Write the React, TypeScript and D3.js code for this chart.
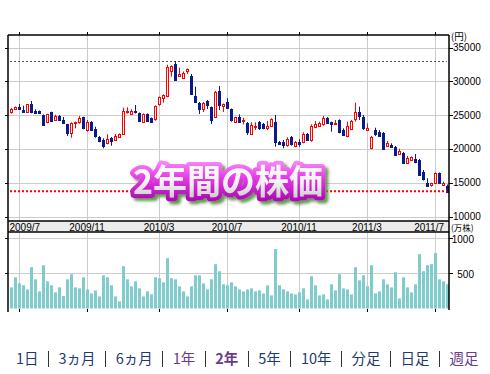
import React, { useRef, useEffect } from 'react';
import * as d3 from 'd3';

// weekly candles, 2009/6 - 2011/7 (yen)
const opens = [
  25530, 25890, 26270, 25830, 25530, 26670, 25640, 25640, 25050, 23970,
  25440, 24310, 24940, 24350, 23670, 22430, 23820, 23970, 24750, 22790,
  24060, 22980, 21840, 21360, 20870, 21700, 21400, 21800, 22290, 25440,
  25240, 25640, 25340, 24060, 25190, 24560, 24410, 26670, 27600, 27890,
  31490, 32520, 30840, 30550, 31490, 30800, 27800, 26860, 25930, 27070,
  26180, 24710, 28590, 26370, 27010, 25930, 23970, 24710, 24160, 23910,
  22290, 23230, 23970, 23670, 23170, 23470, 24060, 21110, 21060, 20620,
  21760, 20520, 21060, 21020, 22240, 21360, 23230, 23470, 23720, 24650,
  23970, 23670, 24310, 22830, 21950, 22940, 24410, 25530, 24710, 22830,
  20130, 22830, 22580, 22350, 20470, 20660, 20280, 19290, 19440, 18010,
  18410, 18510, 18410, 16680, 15060, 14760, 14970, 16450, 14720, 14620,
];
const highs = [
  26120, 26300, 26670, 26420, 26670, 27110, 25890, 25710, 25120, 25220,
  25530, 25090, 25050, 24750, 23720, 23970, 24090, 24900, 24780, 24310,
  24160, 23320, 21950, 21610, 22200, 21800, 22240, 22320, 26120, 26180,
  25890, 26520, 25410, 25270, 25300, 24680, 26450, 27770, 28100, 32460,
  32350, 33000, 32020, 31460, 31900, 31090, 29220, 26960, 26960, 27260,
  26300, 28590, 29320, 26740, 27510, 26000, 24790, 25150, 24650, 24010,
  23970, 23970, 24160, 23870, 24160, 24560, 25050, 21210, 21360, 21760,
  21950, 21210, 21460, 22490, 22390, 23670, 24160, 24060, 24900, 24750,
  24060, 24310, 24410, 23080, 24060, 24310, 26860, 26270, 25050, 23820,
  21950, 23170, 22830, 22540, 21210, 20870, 20470, 20070, 19590, 19000,
  18920, 19290, 18560, 16930, 15710, 15060, 16560, 16560, 15210, 14790,
];
const lows = [
  25240, 25830, 25830, 25490, 25490, 25300, 25190, 25190, 23420, 23820,
  24160, 24160, 24200, 23760, 21950, 21700, 23080, 23760, 22940, 22580,
  22790, 21700, 21020, 20130, 20720, 20520, 21280, 21730, 22100, 25240,
  25190, 25270, 24160, 23970, 24090, 23940, 24200, 26420, 26860, 27660,
  30690, 30210, 30720, 30360, 31090, 28040, 26890, 25190, 25490, 25930,
  23720, 24600, 25780, 25490, 25930, 24060, 23870, 24010, 23670, 22100,
  22100, 22830, 22830, 22940, 22830, 23320, 20370, 20620, 20130, 20370,
  20520, 20280, 20370, 20870, 21210, 21110, 23080, 23420, 23470, 23720,
  22580, 23570, 22350, 21950, 21760, 22830, 24060, 24310, 22830, 22730,
  19990, 21950, 21800, 19880, 20330, 20250, 19000, 19150, 17920, 17920,
  18260, 17920, 16050, 15380, 14500, 14470, 14870, 14870, 14570, 13800,
];
const closes = [
  25930, 26230, 25890, 25530, 26620, 25530, 25340, 25380, 23570, 25150,
  24200, 24940, 24350, 23870, 22390, 23820, 24010, 24650, 23170, 24010,
  22830, 21900, 21250, 20520, 21460, 21210, 21900, 22200, 25640, 25590,
  25640, 25440, 24200, 25190, 24200, 24060, 26370, 27660, 27950, 32170,
  32230, 30250, 31140, 31280, 31790, 28140, 27010, 25930, 26860, 26520,
  24310, 28480, 26520, 26670, 26030, 24310, 24710, 24060, 24350, 22580,
  23570, 23470, 23080, 23170, 23470, 24410, 21020, 20810, 20620, 21510,
  20770, 21060, 20770, 22240, 21360, 23420, 23720, 23820, 24650, 23820,
  23670, 23910, 22580, 22100, 23420, 24200, 25530, 24900, 23080, 23080,
  21760, 22200, 21950, 19990, 20870, 20370, 19150, 19780, 18010, 18750,
  18810, 18110, 16200, 15560, 14570, 14970, 16450, 14970, 14970, 13730,
];
// 万株
const volumes = [
  300, 443, 357, 329, 271, 586, 414, 243, 614, 386,
  329, 229, 300, 176, 414, 486, 300, 286, 443, 271,
  214, 257, 171, 471, 443, 329, 171, 100, 600, 414,
  314, 386, 286, 171, 243, 200, 443, 429, 371, 714,
  429, 414, 314, 243, 171, 314, 471, 471, 357, 271,
  414, 629, 529, 343, 329, 371, 314, 271, 243, 271,
  286, 243, 257, 214, 329, 186, 843, 329, 271, 243,
  214, 200, 229, 286, 129, 457, 329, 186, 200, 129,
  343, 257, 486, 286, 271, 200, 586, 400, 471, 314,
  614, 214, 243, 414, 343, 300, 514, 143, 443, 300,
  229, 343, 771, 529, 614, 629, 786, 414, 386, 343,
];

const monthLabels = ['2009/7', '2009/11', '2010/3', '2010/7', '2010/11', '2011/3', '2011/7'];
const monthWeeks = [2, 19, 37, 54, 72, 89, 106];
const priceTicks = [10000, 15000, 20000, 25000, 30000, 35000];
const volumeTicks = [500, 1000];
const tabLabels = ['1日', '3ヵ月', '6ヵ月', '1年', '2年', '5年', '10年', '分足', '日足', '週足'];
const purpleTabs = ['1年', '2年', '週足'];
const currentTab = '2年';
const title = '2年間の株価';

const NUM_FONT = '"Liberation Sans", Arial, sans-serif';
const JP_FONT = '"Noto Sans CJK JP", "Noto Sans", sans-serif';

export default function App() {
  const svgRef = useRef<SVGSVGElement>(null);

  useEffect(() => {
    if (!svgRef.current) return;
    document.body.style.margin = '0';

    const width = 490;
    const height = 374;
    const left = 8, right = 449, top = 35;
    const stripTop = 221, stripBottom = 232, volBottom = 309;

    const svg = d3.select(svgRef.current)
      .attr('width', width)
      .attr('height', height)
      .attr('viewBox', `0 0 ${width} ${height}`);
    svg.selectAll('*').remove();

    const n = opens.length;
    const x = d3.scaleLinear().domain([0, n - 1]).range([11, 447]);
    const y = d3.scaleLinear().domain([10000, 35000]).range([217, 47.5]);
    const yv = d3.scaleLinear().domain([0, 1000]).range([308.5, 238]);
    const px = (v: number) => Math.round(v) + 0.5;

    const defs = svg.append('defs');
    const sg = defs.append('linearGradient').attr('id', 'titleStroke')
      .attr('x1', 0).attr('y1', 0).attr('x2', 0).attr('y2', 1);
    sg.append('stop').attr('offset', '0%').attr('stop-color', '#ffa8ff');
    sg.append('stop').attr('offset', '45%').attr('stop-color', '#e83ce8');
    sg.append('stop').attr('offset', '100%').attr('stop-color', '#a000a8');
    const fg = defs.append('linearGradient').attr('id', 'titleFill')
      .attr('x1', 0).attr('y1', 0).attr('x2', 0).attr('y2', 1);
    fg.append('stop').attr('offset', '0%').attr('stop-color', '#ffffff');
    fg.append('stop').attr('offset', '55%').attr('stop-color', '#f4f4f4');
    fg.append('stop').attr('offset', '100%').attr('stop-color', '#bdbdbd');

    // green drop glow behind the title
    const fx = defs.append('filter').attr('id', 'titleFx')
      .attr('x', '-10%').attr('y', '-30%').attr('width', '125%').attr('height', '170%');
    fx.append('feGaussianBlur').attr('in', 'SourceAlpha').attr('stdDeviation', 1.6).attr('result', 'blur');
    fx.append('feOffset').attr('in', 'blur').attr('dx', 2.5).attr('dy', 2.5).attr('result', 'off');
    fx.append('feFlood').attr('flood-color', '#4f8f3a').attr('flood-opacity', 0.9).attr('result', 'green');
    fx.append('feComposite').attr('in', 'green').attr('in2', 'off').attr('operator', 'in').attr('result', 'shadow');
    const merge = fx.append('feMerge');
    merge.append('feMergeNode').attr('in', 'shadow');
    merge.append('feMergeNode').attr('in', 'SourceGraphic');

    // grid
    const grid = svg.append('g').attr('stroke', '#cccccc').attr('stroke-width', 1);
    priceTicks.forEach(t => {
      grid.append('line').attr('x1', left).attr('x2', right)
        .attr('y1', px(y(t))).attr('y2', px(y(t)));
    });
    volumeTicks.forEach(t => {
      grid.append('line').attr('x1', left).attr('x2', right)
        .attr('y1', px(yv(t))).attr('y2', px(yv(t)));
    });
    monthWeeks.forEach(w => {
      grid.append('line').attr('x1', px(x(w))).attr('x2', px(x(w))).attr('y1', top).attr('y2', stripTop);
      grid.append('line').attr('x1', px(x(w))).attr('x2', px(x(w))).attr('y1', stripBottom).attr('y2', volBottom);
    });

    // max line
    const maxHigh = d3.max(highs) as number;
    const minLow = d3.min(lows) as number;
    svg.append('line')
      .attr('x1', 10).attr('x2', right - 2)
      .attr('y1', px(y(maxHigh))).attr('y2', px(y(maxHigh)))
      .attr('stroke', '#555').attr('stroke-dasharray', '2,2');

    // candles
    const candles = svg.append('g');
    d3.range(n).forEach(i => {
      const up = closes[i] >= opens[i];
      const color = up ? '#ff0000' : '#0a1a8c';
      const cx = Math.round(x(i));
      candles.append('line')
        .attr('x1', cx + 0.5).attr('x2', cx + 0.5)
        .attr('y1', y(highs[i])).attr('y2', y(lows[i]))
        .attr('stroke', color).attr('stroke-width', 1);
      const yTop = Math.round(y(Math.max(opens[i], closes[i])));
      const yBot = Math.round(y(Math.min(opens[i], closes[i])));
      if (up) {
        candles.append('rect')
          .attr('x', cx - 0.5).attr('y', yTop + 0.5)
          .attr('width', 2).attr('height', Math.max(1, yBot - yTop))
          .attr('fill', '#fff').attr('stroke', color).attr('stroke-width', 1);
      } else {
        candles.append('rect')
          .attr('x', cx - 1).attr('y', yTop)
          .attr('width', 3).attr('height', Math.max(2, yBot - yTop + 1))
          .attr('fill', color);
      }
    });

    // volume
    svg.append('g').selectAll('rect').data(volumes).join('rect')
      .attr('x', (_, i) => Math.round(x(i)) - 1)
      .attr('y', d => yv(d))
      .attr('width', 3)
      .attr('height', d => yv(0) - yv(d))
      .attr('fill', '#80cccc');

    // min line, over the candles
    svg.append('line')
      .attr('x1', 10).attr('x2', right - 2)
      .attr('y1', y(minLow)).attr('y2', y(minLow))
      .attr('stroke', '#ff0000').attr('stroke-width', 2).attr('stroke-dasharray', '2,2');

    // date strip
    svg.append('rect')
      .attr('x', left).attr('y', stripTop)
      .attr('width', right - left).attr('height', stripBottom - stripTop)
      .attr('fill', '#ebebeb');

    // frame
    const frame = svg.append('g').attr('stroke', '#000').attr('stroke-width', 1.5);
    frame.append('line').attr('x1', left).attr('x2', right).attr('y1', top).attr('y2', top);
    frame.append('line').attr('x1', left).attr('x2', right).attr('y1', stripTop).attr('y2', stripTop);
    frame.append('line').attr('x1', left).attr('x2', right).attr('y1', stripBottom).attr('y2', stripBottom);
    frame.append('line').attr('x1', left).attr('x2', left).attr('y1', top).attr('y2', volBottom + 3);
    frame.append('line').attr('x1', right).attr('x2', right).attr('y1', top).attr('y2', volBottom + 1);

    const ticks = svg.append('g').attr('stroke', '#000').attr('stroke-width', 1);
    monthWeeks.forEach(w => {
      ticks.append('line').attr('x1', px(x(w))).attr('x2', px(x(w))).attr('y1', top - 3).attr('y2', top);
      ticks.append('line').attr('x1', px(x(w))).attr('x2', px(x(w))).attr('y1', volBottom).attr('y2', volBottom + 3);
    });
    priceTicks.forEach(t => {
      ticks.append('line').attr('x1', left - 3).attr('x2', left).attr('y1', px(y(t))).attr('y2', px(y(t)));
      ticks.append('line').attr('x1', right).attr('x2', right + 4).attr('y1', px(y(t))).attr('y2', px(y(t)));
    });
    volumeTicks.forEach(t => {
      ticks.append('line').attr('x1', left - 3).attr('x2', left).attr('y1', px(yv(t))).attr('y2', px(yv(t)));
      ticks.append('line').attr('x1', right).attr('x2', right + 4).attr('y1', px(yv(t))).attr('y2', px(yv(t)));
    });

    // axis labels
    svg.append('g').selectAll('text').data(priceTicks).join('text')
      .attr('x', right + 4).attr('y', d => y(d)).attr('dy', '0.32em')
      .attr('font-family', NUM_FONT).attr('font-size', 10).attr('fill', '#000')
      .text(d => String(d));
    svg.append('g').selectAll('text').data(volumeTicks).join('text')
      .attr('x', right + 25).attr('y', d => yv(d)).attr('dy', '0.52em')
      .attr('text-anchor', 'end')
      .attr('font-family', NUM_FONT).attr('font-size', 10).attr('fill', '#000')
      .text(d => String(d));
    svg.append('text').attr('x', right + 2).attr('y', 40)
      .attr('font-family', JP_FONT).attr('font-size', 9.5).text('(円)');
    svg.append('text').attr('x', right + 2).attr('y', 231.4)
      .attr('font-family', JP_FONT).attr('font-size', 8.5).text('(万株)');

    monthLabels.forEach((label, k) => {
      const t = svg.append('text')
        .attr('y', 230.5)
        .attr('font-family', NUM_FONT).attr('font-size', 10).attr('fill', '#000')
        .text(label);
      const w = (t.node() as SVGTextElement).getComputedTextLength();
      const lx = Math.min(right - 5 - w, Math.max(left + 1.5, x(monthWeeks[k]) - w / 2));
      t.attr('x', lx);
    });

    // title overlay: magenta outline, white face, green glow
    svg.append('text')
      .attr('x', 228).attr('y', 194)
      .attr('text-anchor', 'middle')
      .attr('font-family', JP_FONT)
      .attr('font-size', 34).attr('font-weight', 'bold')
      .attr('fill', 'url(#titleFill)')
      .attr('stroke', 'url(#titleStroke)').attr('stroke-width', 8)
      .attr('stroke-linejoin', 'round')
      .attr('paint-order', 'stroke')
      .attr('filter', 'url(#titleFx)')
      .text(title);

    // period tabs
    const tabs = svg.append('g');
    let cursor = 16;
    tabLabels.forEach((label, k) => {
      const t = tabs.append('text')
        .attr('x', cursor).attr('y', 364)
        .attr('font-family', JP_FONT).attr('font-size', 14.5)
        .attr('font-weight', label === currentTab ? 'bold' : 'normal')
        .attr('fill', purpleTabs.includes(label) ? '#6b3a8c' : '#1f3a6e')
        .text(label);
      const w = (t.node() as SVGTextElement).getComputedTextLength();
      cursor += w;
      if (k < tabLabels.length - 1) {
        tabs.append('line')
          .attr('x1', px(cursor + 9.5)).attr('x2', px(cursor + 9.5))
          .attr('y1', 351).attr('y2', 367)
          .attr('stroke', '#333').attr('stroke-width', 1);
        cursor += 20;
      }
    });
  }, []);

  return <svg ref={svgRef} style={{ display: 'block' }} />;
}
